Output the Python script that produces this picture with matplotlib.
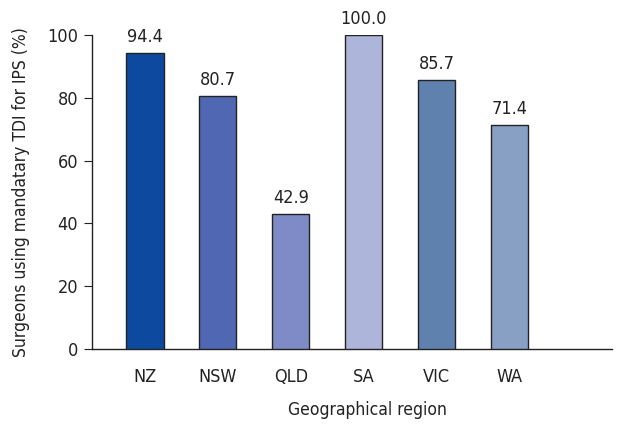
import matplotlib
matplotlib.use("Agg")
import matplotlib.pyplot as plt
from matplotlib import font_manager

entries = font_manager.fontManager.ttflist
names = {f.name for f in entries}
stretch = 'normal'
if 'Liberation Sans Narrow' in names:
    fam = 'Liberation Sans Narrow'
elif any(f.name == 'DejaVu Sans' and str(f.stretch) in ('condensed', 'semi-condensed', '87.5', '75')
         and f.weight in (400, 'normal') and f.style == 'normal' for f in entries):
    fam = 'DejaVu Sans'
    stretch = 'condensed'
else:
    fam = 'Liberation Sans'
plt.rcParams['font.family'] = [fam, 'DejaVu Sans']
plt.rcParams['font.stretch'] = stretch

regions = ["NZ", "NSW", "QLD", "SA", "VIC", "WA"]
values = [94.4, 80.7, 42.9, 100.0, 85.7, 71.4]
labels = ["94.4", "80.7", "42.9", "100.0", "85.7", "71.4"]
colors = ["#0D4A9F", "#5068B3", "#7F8BC6", "#AEB5DA", "#5E81AE", "#88A0C3"]
yticks = [0, 20, 40, 60, 80, 100]

fs = 13
fig = plt.figure(figsize=(6.37, 4.25), dpi=100)
ax = fig.add_axes([92/637, 1-349/425, (612-92)/637, (349-35)/425])
x = list(range(len(regions)))
ax.bar(x, values, width=0.51, color=colors, edgecolor="#222222", linewidth=1.0, zorder=3)
for xi, v, lab in zip(x, values, labels):
    ax.text(xi, v + 2.2, lab, ha="center", va="bottom", fontsize=fs, color="#222222")
ax.set_xlim(-0.727, 6.41)
ax.set_ylim(0, 100)
ax.set_yticks(yticks)
ax.set_xticks(x)
ax.set_xticklabels(regions)
ax.spines['top'].set_visible(False)
ax.spines['right'].set_visible(False)
for s in ['left', 'bottom']:
    ax.spines[s].set_color('#222222')
    ax.spines[s].set_linewidth(1.0)
ax.tick_params(axis='y', direction='out', length=6, labelsize=fs, colors='#222222', pad=4)
ax.tick_params(axis='x', length=0, labelsize=fs, colors='#222222', pad=14)
ax.set_xlabel("Geographical region", fontsize=12.5, color='#222222', labelpad=12)
ax.xaxis.set_label_coords((367 - 92) / 520, -0.165)
ax.set_ylabel("Surgeons using mandatary TDI for IPS (%)", fontsize=12.5, color='#222222', labelpad=12)
fig.savefig("out.png", dpi=100)
